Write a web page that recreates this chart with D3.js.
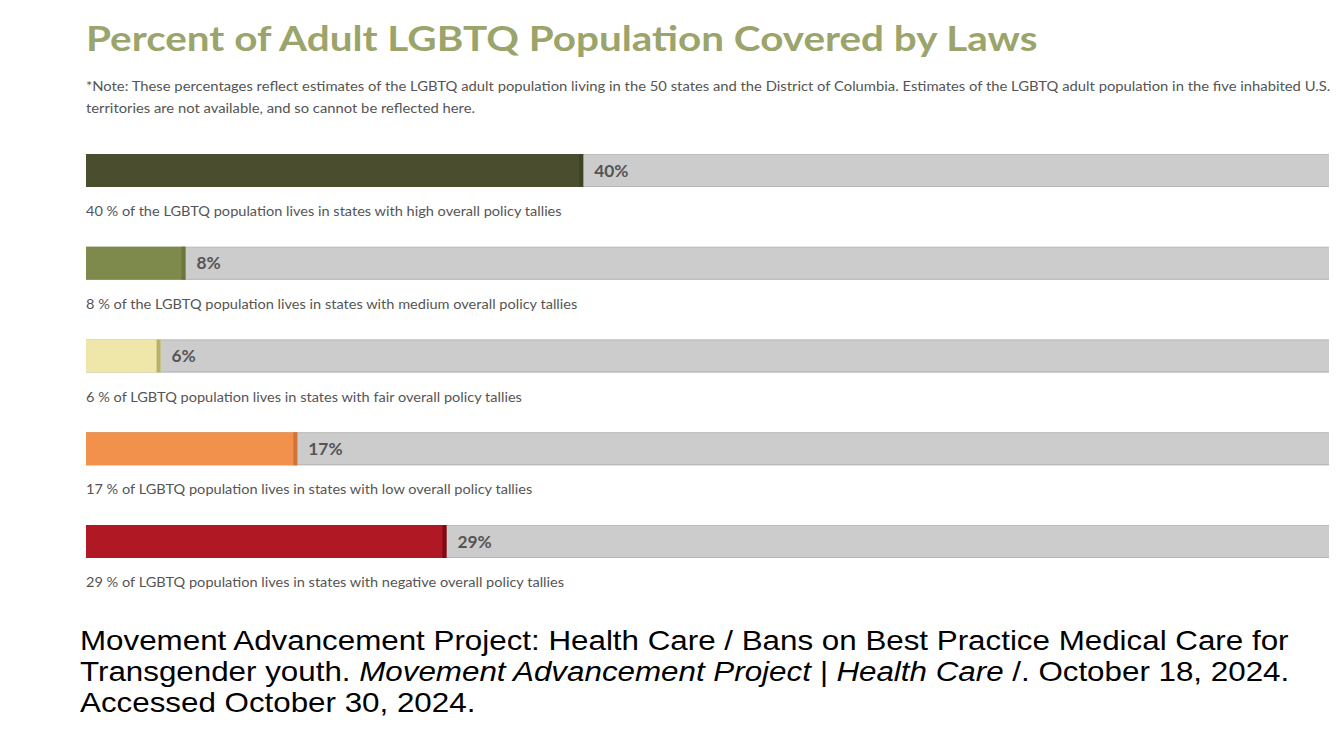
<!DOCTYPE html>
<html>
<head>
<meta charset="utf-8">
<script src="https://cdn.jsdelivr.net/npm/d3@7"></script>
<style>
  body { margin: 0; background: #fff; }
  svg { display: block; }
</style>
</head>
<body>
<script>
// data
var values = [40, 8, 6, 17, 29];
var captions = [
  "40 % of the LGBTQ population lives in states with high overall policy tallies",
  "8 % of the LGBTQ population lives in states with medium overall policy tallies",
  "6 % of LGBTQ population lives in states with fair overall policy tallies",
  "17 % of LGBTQ population lives in states with low overall policy tallies",
  "29 % of LGBTQ population lives in states with negative overall policy tallies"
];
var fills = ["#4a4e2f", "#7d8a4c", "#efe7a9", "#f1914b", "#b01824"];
var edges = ["#3e4226", "#6a763c", "#b9b06a", "#d2743a", "#7c0c14"];

var title = "Percent of Adult LGBTQ Population Covered by Laws";
var noteLines = [
  "*Note: These percentages reflect estimates of the LGBTQ adult population living in the 50 states and the District of Columbia. Estimates of the LGBTQ adult population in the five inhabited U.S.",
  "territories are not available, and so cannot be reflected here."
];

var width = 1337, height = 748;
var svg = d3.select("body").append("svg")
  .attr("width", width)
  .attr("height", height);

// the source picture is stretched sideways, so texts get a horizontal scale
function placed(x0, y0, sx) {
  return "translate(" + x0 + "," + y0 + ") scale(" + sx + ",1)";
}

var x = d3.scaleLinear().domain([0, 100]).range([86, 1329]);
var y = d3.scaleLinear().domain([0, values.length - 1]).range([154, 525]);
var barH = 33;

svg.append("text")
  .attr("transform", placed(86, 51, 1.155))
  .style("font-family", "Lato, sans-serif")
  .style("font-weight", "bold")
  .style("font-size", "35px")
  .style("fill", "#9ba46b")
  .text(title);

svg.selectAll(".note")
  .data(noteLines)
  .enter().append("text")
  .attr("class", "note")
  .attr("transform", function(d, i) { return placed(86, 91 + i * 21.5, 1.183); })
  .style("font-family", "Lato, sans-serif")
  .style("font-size", "12.5px")
  .style("fill", "#555")
  .text(function(d) { return d; });

var g = svg.selectAll(".row")
  .data(values)
  .enter().append("g")
  .attr("class", "row")
  .attr("transform", function(d, i) { return "translate(0," + y(i) + ")"; });

// grey track
g.append("rect")
  .attr("x", x(0)).attr("y", 0)
  .attr("width", x(100) - x(0)).attr("height", barH)
  .style("fill", "#cccccc");
g.append("line")
  .attr("x1", x(0)).attr("x2", x(100)).attr("y1", 0.5).attr("y2", 0.5)
  .style("stroke", "#bdbdbd");
g.append("line")
  .attr("x1", x(0)).attr("x2", x(100)).attr("y1", barH - 0.5).attr("y2", barH - 0.5)
  .style("stroke", "#b5b5b5");

// value fill
g.append("rect")
  .attr("x", x(0)).attr("y", 0)
  .attr("width", function(d) { return x(d) - x(0); })
  .attr("height", barH)
  .style("fill", function(d, i) { return fills[i]; });
g.append("rect")
  .attr("x", function(d) { return x(d) - 4; }).attr("y", 0)
  .attr("width", 4).attr("height", barH)
  .style("fill", function(d, i) { return edges[i]; });

g.append("text")
  .attr("transform", function(d) { return placed(x(d) + 11, barH / 2 + 6, 1.05); })
  .style("font-family", "Lato, sans-serif")
  .style("font-weight", "bold")
  .style("font-size", "16.5px")
  .style("fill", "#555")
  .text(function(d) { return d + "%"; });

g.append("text")
  .attr("transform", placed(86, barH + 29, 1.12))
  .style("font-family", "Lato, sans-serif")
  .style("font-size", "13px")
  .style("fill", "#555")
  .text(function(d, i) { return captions[i]; });

// citation
var cite = svg.append("g")
  .style("font-family", "'Liberation Sans', Arial, sans-serif")
  .style("font-size", "27.5px")
  .style("fill", "#000");

cite.append("text").attr("transform", placed(80, 650, 1.14))
  .text("Movement Advancement Project: Health Care / Bans on Best Practice Medical Care for");
var t2 = cite.append("text").attr("transform", placed(80, 681, 1.14));
t2.append("tspan").text("Transgender youth. ");
t2.append("tspan").style("font-style", "italic").text("Movement Advancement Project | Health Care");
t2.append("tspan").text(" /. October 18, 2024.");
cite.append("text").attr("transform", placed(80, 712, 1.14))
  .text("Accessed October 30, 2024.");
</script>
</body>
</html>
